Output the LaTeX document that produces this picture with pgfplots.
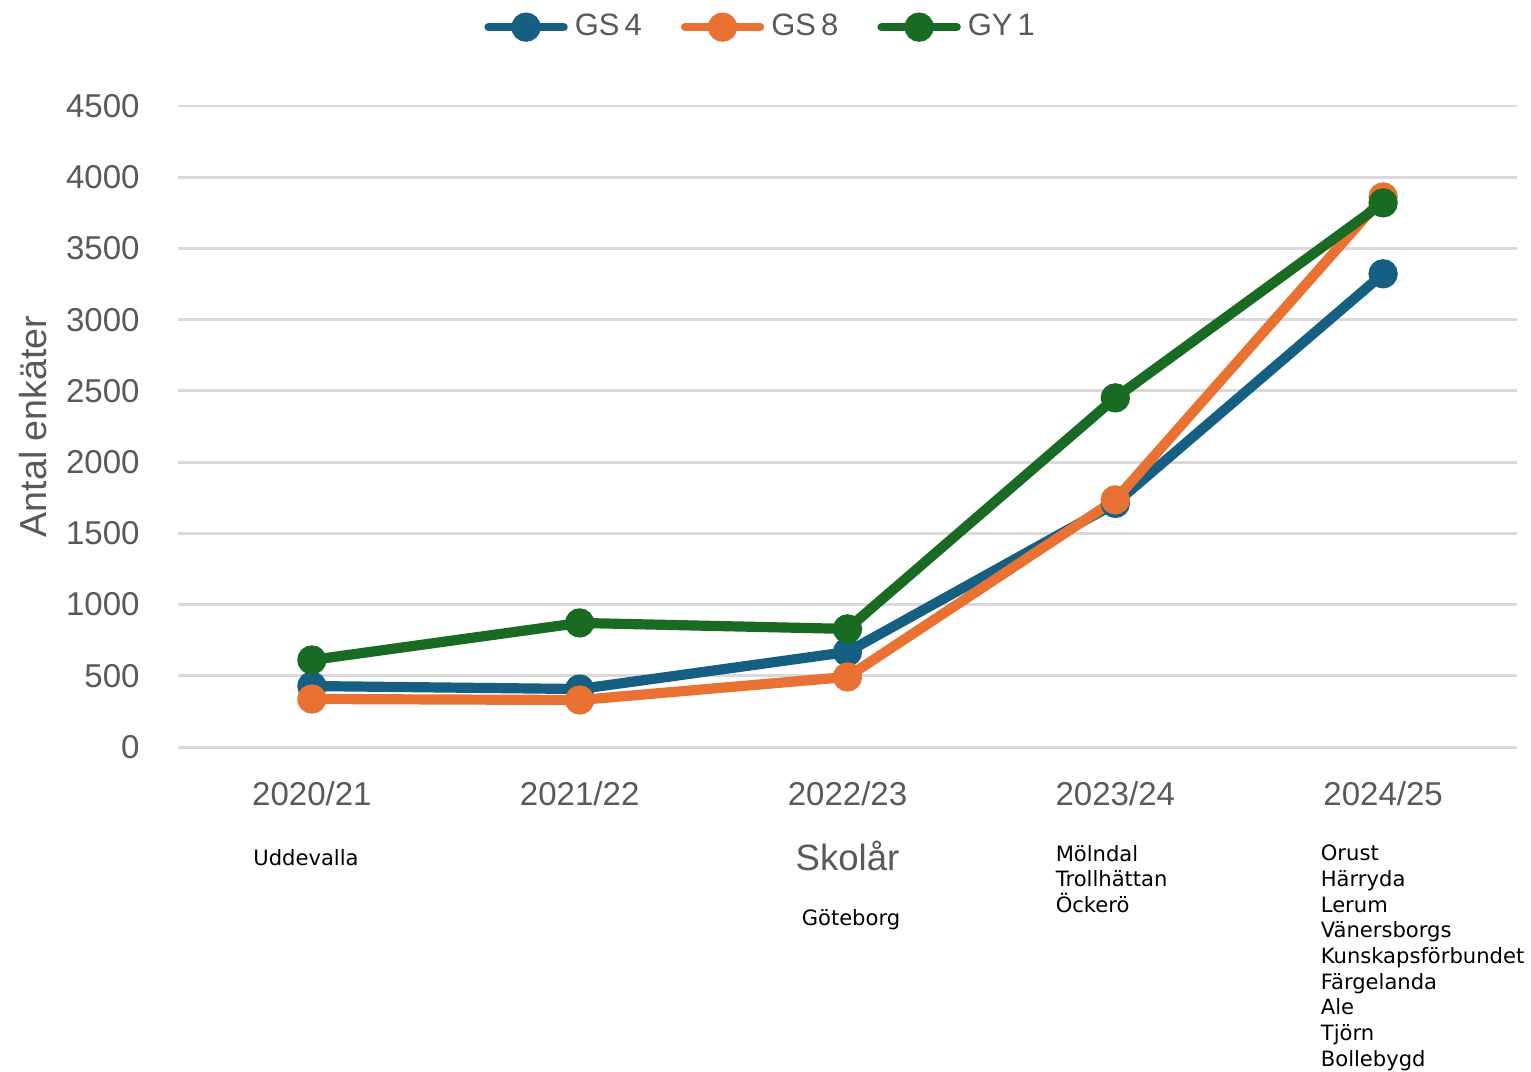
\documentclass[border=0pt]{standalone}
\usepackage{fontspec}
\setmainfont{Liberation Sans}
\newfontfamily\verd{DejaVu Sans}
\usepackage{pgfplots}
\pgfplotsset{compat=1.18}

\definecolor{gsfyra}{HTML}{156082}
\definecolor{gsatta}{HTML}{E97132}
\definecolor{gyett}{HTML}{196B24}
\definecolor{txtgray}{HTML}{595959}
\definecolor{gridgray}{HTML}{D9D9D9}

\begin{document}
\begin{tikzpicture}
\begin{axis}[
    scale only axis,
    width=133.9mm, height=64.1mm,
    xmin=-0.5, xmax=4.5,
    ymin=0, ymax=4500,
    xtick={0,1,2,3,4},
    xticklabels={2020/21,2021/22,2022/23,2023/24,2024/25},
    ytick={0,500,...,4500},
    ymajorgrids,
    major grid style={gridgray, line width=0.85pt},
    axis line style={draw=none},
    major tick length=0pt,
    tick label style={font=\fontsize{9.4}{11}\selectfont, text=txtgray},
    yticklabel style={xshift=-2.6mm},
    xticklabel style={yshift=-2.2mm},
    /pgf/number format/assume math mode=true,
    /pgf/number format/1000 sep={},
    ylabel={Antal enkäter},
    ylabel style={font=\fontsize{10.7}{12}\selectfont, text=txtgray,
        at={(axis description cs:-0.108,0.5)}, anchor=center},
    xlabel={Skolår},
    xlabel style={font=\fontsize{10.4}{12}\selectfont, text=txtgray,
        at={(axis description cs:0.5,-0.17)}, anchor=center},
    clip=false,
    legend columns=3,
    legend style={at={(0.437,1.123)}, anchor=center, draw=none,
        font=\fontsize{8.8}{10}\selectfont, text=txtgray,
        /tikz/every even column/.append style={column sep=3.2mm}},
    legend image code/.code={
        \draw[#1, line width=2.4pt, line cap=round] (0.4mm,0mm) -- (7.9mm,0mm);
        \fill[#1] (4.15mm,0mm) circle (0.95mm);},
    every axis plot/.append style={line width=2.9pt, mark=*, mark size=2.7pt},
]
\addplot[color=gsfyra] coordinates {(0,428) (1,407) (2,667) (3,1710) (4,3322)};
\addlegendentry{GS\,4}
\addplot[color=gsatta] coordinates {(0,337) (1,330) (2,492) (3,1735) (4,3862)};
\addlegendentry{GS\,8}
\addplot[color=gyett] coordinates {(0,611) (1,871) (2,829) (3,2451) (4,3820)};
\addlegendentry{GY\,1}

\coordinate (bl) at (rel axis cs:0,0);
\begin{scope}[every node/.style={font=\verd\fontsize{6}{7.3}\selectfont, inner sep=0pt, align=left}]
\node[anchor=center] at (axis description cs:0.0956,-0.173) {Uddevalla};
\node[anchor=center] at (axis description cs:0.5026,-0.270) {Göteborg};
\node[anchor=north west] at (axis description cs:0.655,-0.152) {Mölndal\\Trollhättan\\Öckerö};
\node[anchor=north west] at (axis description cs:0.853,-0.152) {Orust\\Härryda\\Lerum\\Vänersborgs\\Kunskapsförbundet\\Färgelanda\\Ale\\Tjörn\\Bollebygd};
\end{scope}
\end{axis}
\pgfresetboundingbox
\path ([xshift=-17.8mm, yshift=-32.4mm]bl) rectangle ([xshift=135.3mm, yshift=74.7mm]bl);
\end{tikzpicture}
\end{document}
